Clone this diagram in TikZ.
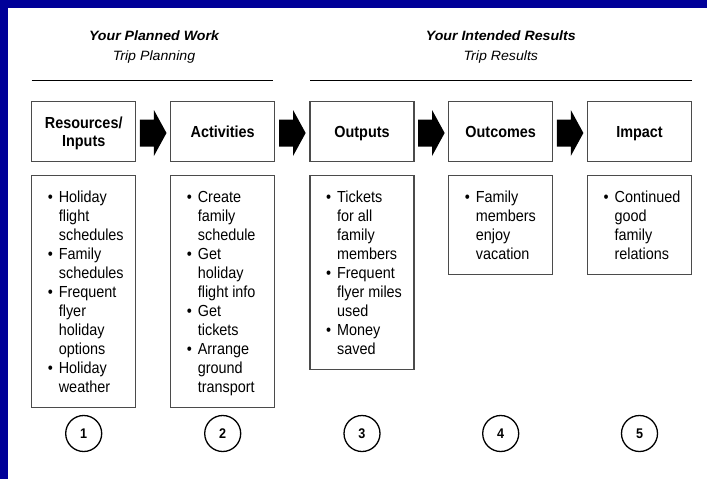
\documentclass[tikz,border=0pt]{standalone}
\usepackage{fontspec}
\setmainfont{Liberation Sans}[FakeStretch=0.9]
\newfontfamily\titlefont{Liberation Sans}[FakeStretch=1.05]
\usetikzlibrary{calc}
\definecolor{frameblue}{RGB}{0,0,153}
\definecolor{boxgray}{RGB}{75,75,75}
\newcommand\bulit{\makebox[11pt][l]{\textbullet}}
\newcommand\contl{\hspace*{11pt}}
\newcommand\fatarrow[2]{%
  \begin{scope}[shift={($(#1.east)!0.5!(#2.west)+(0,1.3)$)}]
    \fill (-13.3,-13.5) -- (0.7,-13.5) -- (0.7,-23) -- (13.3,0) -- (0.7,23) -- (0.7,13.5) -- (-13.3,13.5) -- cycle;
  \end{scope}}
\begin{document}
\begin{tikzpicture}[x=1pt,y=-1pt,
  hbox/.style={draw=boxgray, line width=1.1pt, minimum width=104pt, minimum height=60pt, inner sep=0pt, align=center, text height=11.8pt, text depth=0pt, font=\fontsize{16}{18.4}\selectfont\bfseries},
  lbox/.style={draw=boxgray, line width=1.1pt, minimum width=104pt, anchor=north, inner sep=0pt},
  list/.style={anchor=base west, inner sep=0pt, font=\fontsize{16}{19}\selectfont},
  num/.style={draw, circle, line width=1.3pt, minimum size=36pt, inner sep=0pt, text height=10pt, text depth=0pt, font=\fontsize{14}{14}\selectfont\bfseries},
  ttl/.style={anchor=base, inner sep=0pt, font=\titlefont\fontsize{13.5}{14}\selectfont\bfseries\itshape},
  sub/.style={anchor=base, inner sep=0pt, font=\titlefont\fontsize{13.5}{14}\selectfont\itshape},
  rule/.style={line width=1.3pt}
]
\useasboundingbox (0,0) rectangle (707,479);
\fill[white] (0,0) rectangle (707,479);
\fill[frameblue] (0,0) rectangle (707,8);
\fill[frameblue] (0,0) rectangle (8,479);

% titles
\node[ttl] (h1) at (154,40.7) {Your Planned Work};
\node[sub] (s1) at (154,60) {Trip Planning};
\node[ttl] (h2) at (500.8,40.7) {Your Intended Results};
\node[sub] (s2) at (500.8,60) {Trip Results};
\draw[rule] (31.7,80.7) -- (273.3,80.7);
\draw[rule] (310,80.7) -- (691.7,80.7);

% header boxes
\node[hbox, text height=30.2pt] (t1) at (83.7,131.7) {Resources/\\Inputs};
\node[hbox] (t2) at (222.7,131.7) {Activities};
\node[hbox] (t3) at (362,131.7) {Outputs};
\node[hbox] (t4) at (500.7,131.7) {Outcomes};
\node[hbox] (t5) at (639.5,131.7) {Impact};

\fatarrow{t1}{t2}
\fatarrow{t2}{t3}
\fatarrow{t3}{t4}
\fatarrow{t4}{t5}

% list boxes
\node[lbox, minimum height=232.3pt] (l1) at (83.7,175) {};
\node[lbox, minimum height=232.3pt] (l2) at (222.7,175) {};
\node[lbox, minimum height=194.3pt] (l3) at (362,175) {};
\node[lbox, minimum height=99pt] (l4) at (500.7,175) {};
\node[lbox, minimum height=99pt] (l5) at (639.5,175) {};

\node[list] (x1) at ($(l1.north west)+(16.5,27.7)$) {\begin{tabular}[t]{@{}l@{}}
\bulit Holiday\\ \contl flight\\ \contl schedules\\
\bulit Family\\ \contl schedules\\
\bulit Frequent\\ \contl flyer\\ \contl holiday\\ \contl options\\
\bulit Holiday\\ \contl weather
\end{tabular}};
\node[list] (x2) at ($(l2.north west)+(16.5,27.7)$) {\begin{tabular}[t]{@{}l@{}}
\bulit Create\\ \contl family\\ \contl schedule\\
\bulit Get\\ \contl holiday\\ \contl flight info\\
\bulit Get\\ \contl tickets\\
\bulit Arrange\\ \contl ground\\ \contl transport
\end{tabular}};
\node[list] (x3) at ($(l3.north west)+(16.5,27.7)$) {\begin{tabular}[t]{@{}l@{}}
\bulit Tickets\\ \contl for all\\ \contl family\\ \contl members\\
\bulit Frequent\\ \contl flyer miles\\ \contl used\\
\bulit Money\\ \contl saved
\end{tabular}};
\node[list] (x4) at ($(l4.north west)+(16.5,27.7)$) {\begin{tabular}[t]{@{}l@{}}
\bulit Family\\ \contl members\\ \contl enjoy\\ \contl vacation
\end{tabular}};
\node[list] (x5) at ($(l5.north west)+(16.5,27.7)$) {\begin{tabular}[t]{@{}l@{}}
\bulit Continued\\ \contl good\\ \contl family\\ \contl relations
\end{tabular}};

% numbers
\node[num] (c1) at (83.7,433.5) {1};
\node[num] (c2) at (222.7,433.5) {2};
\node[num] (c3) at (362,433.5) {3};
\node[num] (c4) at (500.7,433.5) {4};
\node[num] (c5) at (639.5,433.5) {5};
\end{tikzpicture}
\end{document}
